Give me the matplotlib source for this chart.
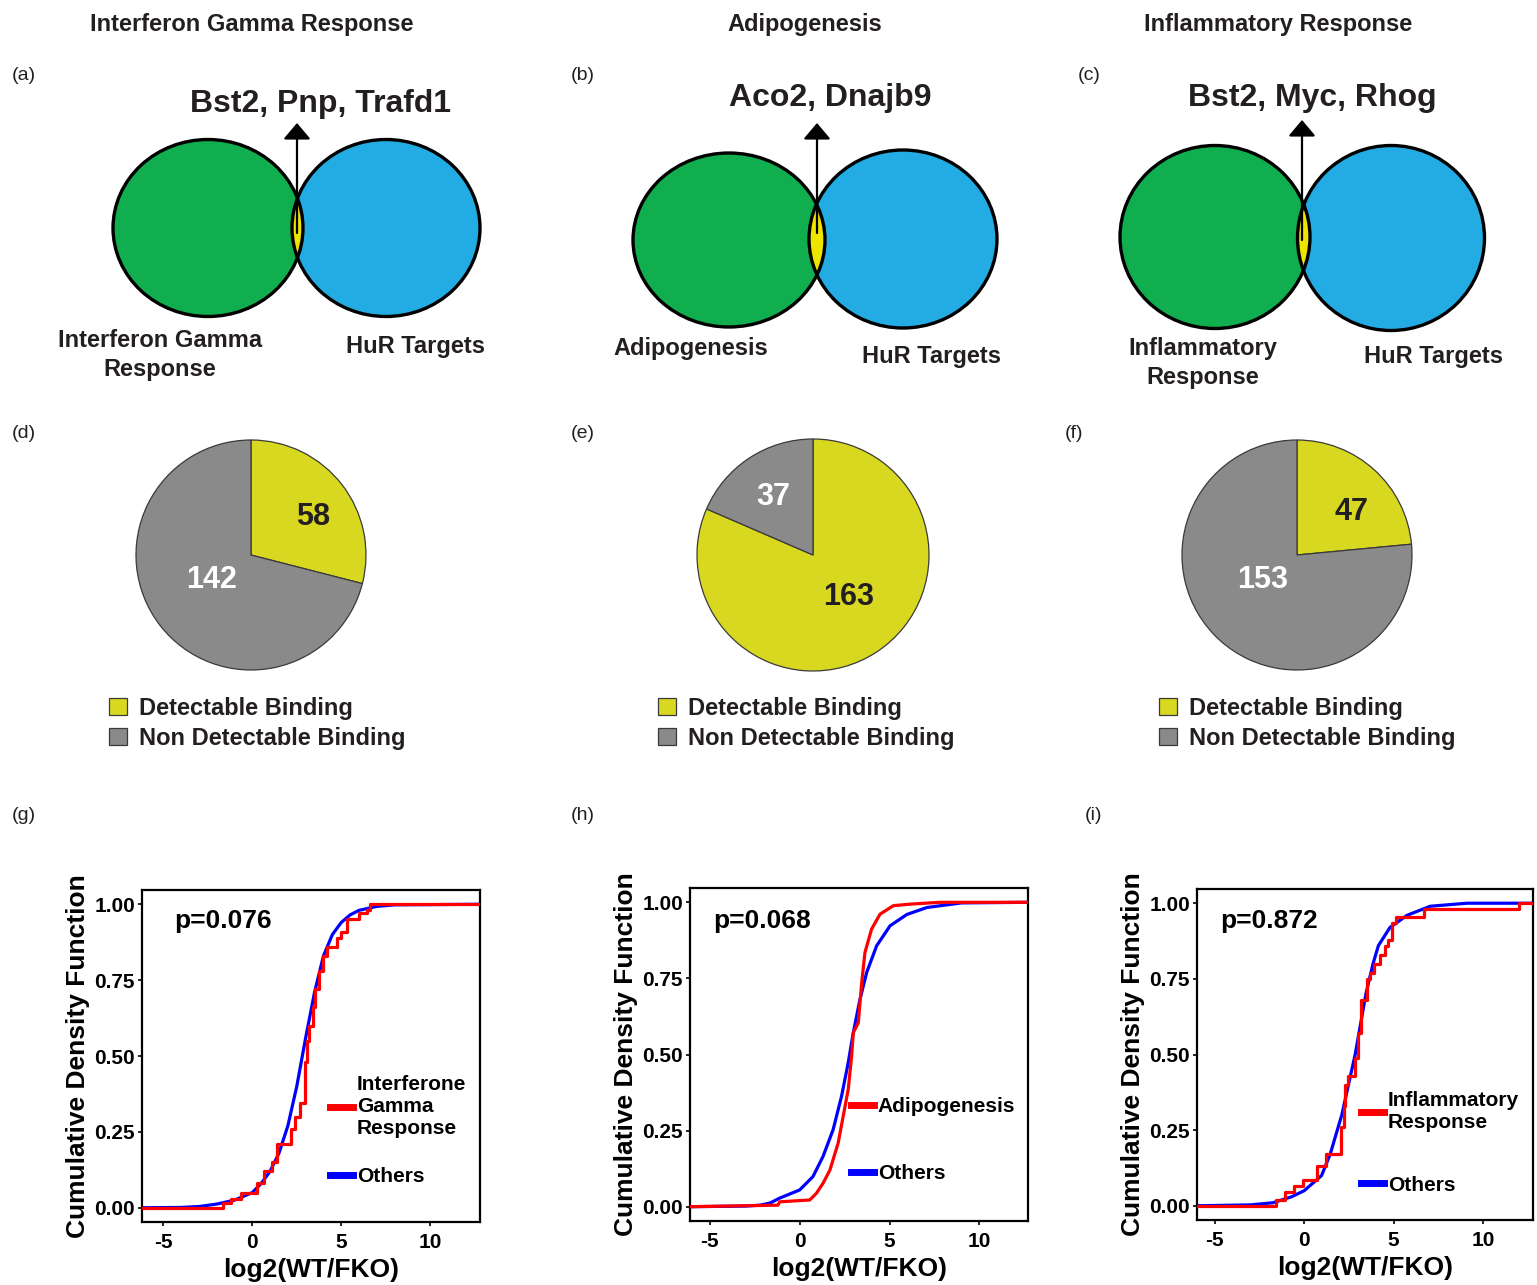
import numpy as np
import matplotlib.pyplot as plt
from matplotlib.patches import Ellipse

W, H = 1537, 1285
plt.rcParams['font.family'] = ['Liberation Sans', 'DejaVu Sans']
plt.rcParams['axes.unicode_minus'] = False
INK = '#231F20'

# --- data ---
set_names = ["Interferon Gamma Response", "Adipogenesis", "Inflammatory Response"]
venn_labels = ["Interferon Gamma\nResponse", "Adipogenesis", "Inflammatory\nResponse"]
shared_genes = ["Bst2, Pnp, Trafd1", "Aco2, Dnajb9", "Bst2, Myc, Rhog"]

detectable = [58, 163, 47]
non_detectable = [142, 37, 153]
binding_labels = ["Detectable Binding", "Non Detectable Binding"]

p_values = ["p=0.076", "p=0.068", "p=0.872"]
cdf_labels = ["Interferone\nGamma\nResponse", "Adipogenesis", "Inflammatory\nResponse"]

# "Others" CDF
others_g_x = [-6.2, -4.0, -3.0, -2.0, -1.0, 0.0, 0.5, 1.0, 1.5, 2.0, 2.5, 3.0, 3.5, 4.0, 4.5, 5.0, 5.5, 6.0, 7.0, 8.0, 12.8]
others_g_y = [0.0, 0.001, 0.004, 0.012, 0.025, 0.05, 0.08, 0.12, 0.18, 0.27, 0.40, 0.56, 0.71, 0.83, 0.90, 0.94, 0.965, 0.98, 0.993, 0.998, 1.0]
others_h_x = [-6.1, -3.0, -2.2, -1.65, -1.12, 0.0, 0.74, 1.3, 1.86, 2.33, 2.7, 2.98, 3.35, 3.73, 4.28, 5.03, 5.96, 7.08, 9.0, 12.7]
others_h_y = [0.0, 0.002, 0.005, 0.012, 0.028, 0.055, 0.099, 0.165, 0.253, 0.363, 0.473, 0.571, 0.68, 0.77, 0.857, 0.923, 0.96, 0.983, 0.998, 1.0]
others_i_x = [-6.0, -3.0, -1.75, -0.7, 0.0, 0.97, 1.45, 2.1, 2.85, 3.45, 3.85, 4.15, 4.8, 5.75, 7.05, 9.1, 12.8]
others_i_y = [0.0, 0.003, 0.01, 0.03, 0.05, 0.10, 0.17, 0.30, 0.50, 0.70, 0.80, 0.86, 0.92, 0.96, 0.99, 1.0, 1.0]

# gene set CDF (red): jump positions and level after each jump
set_g_x = [-1.65, -1.2, -0.65, 0.28, 0.65, 1.1, 1.4, 2.15, 2.4, 2.7, 2.95, 3.05, 3.2, 3.4, 3.55, 3.75, 4.0, 4.2, 4.75, 5.0, 5.35, 6.0, 6.45, 6.6]
set_g_y = [0.015, 0.03, 0.05, 0.08, 0.12, 0.15, 0.21, 0.26, 0.30, 0.345, 0.48, 0.55, 0.60, 0.66, 0.72, 0.78, 0.83, 0.86, 0.89, 0.91, 0.95, 0.97, 0.98, 1.0]
# adipogenesis set is large, its steps are tiny: read as a traced line
set_h_x = [-1.2, -1.12, 0.56, 0.93, 1.3, 1.68, 2.14, 2.42, 2.7, 2.89, 2.98, 3.26, 3.45, 3.63, 4.0, 4.47, 5.21, 6.15, 7.8]
set_h_y = [0.005, 0.016, 0.022, 0.044, 0.077, 0.12, 0.209, 0.297, 0.385, 0.494, 0.571, 0.604, 0.736, 0.835, 0.912, 0.961, 0.989, 0.994, 1.0]
set_i_x = [-1.6, -1.08, -0.56, -0.05, 0.7, 1.2, 2.05, 2.2, 2.3, 2.45, 2.85, 3.0, 3.2, 3.5, 3.7, 3.9, 4.25, 4.5, 4.7, 4.9, 5.15, 6.7, 7.05, 12.0]
set_i_y = [0.02, 0.045, 0.065, 0.085, 0.13, 0.17, 0.26, 0.33, 0.40, 0.43, 0.49, 0.57, 0.68, 0.75, 0.77, 0.80, 0.83, 0.86, 0.88, 0.935, 0.955, 0.98, 0.98, 1.0]

others_x = [others_g_x, others_h_x, others_i_x]
others_y = [others_g_y, others_h_y, others_i_y]
set_x = [set_g_x, set_h_x, set_i_x]
set_y = [set_g_y, set_h_y, set_i_y]


def px_axes(fig, left, top, right, bottom):
    return fig.add_axes([left / W, 1 - bottom / H, (right - left) / W, (bottom - top) / H])


fig = plt.figure(figsize=(W / 100, H / 100), dpi=100)

# overlay in pixel coordinates for venn diagrams and free text
ov = fig.add_axes([0, 0, 1, 1])
ov.set_xlim(0, W)
ov.set_ylim(H, 0)
ov.axis('off')

title_x = [252, 805, 1278]
for name, x in zip(set_names, title_x):
    ov.text(x, 24, name, ha='center', va='center', fontsize=17, fontweight='bold', color=INK)

letters = [("(a)", 12, 76), ("(b)", 571, 76), ("(c)", 1078, 76),
           ("(d)", 12, 433), ("(e)", 571, 433), ("(f)", 1065, 433),
           ("(g)", 12, 815), ("(h)", 571, 815), ("(i)", 1085, 815)]
for s, x, y in letters:
    ov.text(x, y, s, ha='left', va='center', fontsize=14, color=INK)

# venn diagrams: (cx, cy, rx, ry) for set circle and HuR circle
venn_green = [(208, 228, 95, 88.5), (729, 240, 96, 87), (1215, 237, 95, 91.5)]
venn_blue = [(386, 228, 94, 88.5), (903, 239, 94, 89), (1391, 238, 93.5, 92.5)]
arrow_x = [297, 817, 1302]
arrow_top = [123, 123, 120]
arrow_base = [233, 233, 240]
gene_pos = [(320, 104), (830, 98), (1312, 98)]
set_label_pos = [(160, 355), (691, 349), (1203, 363)]
hur_label_pos = [(415, 346), (932, 357), (1434, 357)]

for k in range(3):
    gx, gy, grx, gry = venn_green[k]
    bx, by, brx, bry = venn_blue[k]
    green = Ellipse((gx, gy), 2 * grx, 2 * gry, fc='#10AE4F', ec='none', zorder=2)
    blue = Ellipse((bx, by), 2 * brx, 2 * bry, fc='#22ACE3', ec='none', zorder=2)
    ov.add_patch(green)
    ov.add_patch(blue)
    lens = Ellipse((bx, by), 2 * brx, 2 * bry, fc='#EDE400', ec='none', zorder=3)
    ov.add_patch(lens)
    lens.set_clip_path(green)
    ov.add_patch(Ellipse((gx, gy), 2 * grx, 2 * gry, fc='none', ec='black', lw=2.4, zorder=4))
    ov.add_patch(Ellipse((bx, by), 2 * brx, 2 * bry, fc='none', ec='black', lw=2.4, zorder=4))
    ov.annotate('', xy=(arrow_x[k], arrow_top[k]), xytext=(arrow_x[k], arrow_base[k]),
                arrowprops=dict(arrowstyle='-|>,head_length=0.45,head_width=0.38',
                                color='black', lw=1.6, mutation_scale=22,
                                shrinkA=0, shrinkB=0), zorder=5)
    ov.text(*gene_pos[k], shared_genes[k], ha='center', va='center', fontsize=23,
            fontweight='bold', color=INK)
    ov.text(*set_label_pos[k], venn_labels[k], ha='center', va='center', fontsize=17,
            fontweight='bold', color=INK, linespacing=1.3)
    ov.text(*hur_label_pos[k], "HuR Targets", ha='center', va='center', fontsize=17,
            fontweight='bold', color=INK)

# pies
pie_boxes = [(135, 440, 367, 670), (696, 439, 930, 671), (1181, 440, 1413, 670)]
pie_text_pos = [((0.54, 0.33), (-0.34, -0.22)),
                ((0.31, -0.36), (-0.34, 0.50)),
                ((0.47, 0.37), (-0.30, -0.22))]
legend_left = [109, 658, 1159]
yellow, gray = '#D9D821', '#8A8A8A'

for k in range(3):
    ax = px_axes(fig, *pie_boxes[k])
    wedges, _ = ax.pie([detectable[k], non_detectable[k]], colors=[yellow, gray],
                       startangle=90, counterclock=False, radius=1,
                       wedgeprops=dict(edgecolor='#3A3A3A', linewidth=0.9))
    ax.set_xlim(-1.0, 1.0)
    ax.set_ylim(-1.0, 1.0)
    (dx, dy), (nx, ny) = pie_text_pos[k]
    ax.text(dx, dy, str(detectable[k]), ha='center', va='center', fontsize=22,
            fontweight='bold', color=INK)
    ax.text(nx, ny, str(non_detectable[k]), ha='center', va='center', fontsize=22,
            fontweight='bold', color='white')
    leg = ax.legend(wedges, binding_labels, loc='upper left',
                    bbox_to_anchor=(legend_left[k] / W, 1 - 697 / H),
                    bbox_transform=fig.transFigure, frameon=False, borderpad=0,
                    handlelength=0.75, handleheight=0.75, handletextpad=0.5,
                    labelspacing=0.3, borderaxespad=0,
                    prop=dict(size=17, weight='bold'))
    for t in leg.get_texts():
        t.set_color(INK)

# CDF plots
cdf_boxes = [(142, 890, 480, 1222), (690, 888, 1028, 1221), (1197, 889, 1533, 1220)]
xlims = [(-6.2, 12.8), (-6.1, 12.7), (-6.0, 12.8)]
p_pos = [(0.24, 0.907), (0.213, 0.90), (0.214, 0.903)]
leg_anchor = [(0.556, 0.275), (0.476, 0.243), (0.488, 0.233)]
leg_spacing = [1.4, 2.3, 2.1]

for k in range(3):
    ax = px_axes(fig, *cdf_boxes[k])
    x0, x1 = xlims[k]
    sx = np.r_[x0, set_x[k], x1]
    sy = np.r_[0.0, set_y[k], set_y[k][-1]]
    ax.plot(others_x[k], others_y[k], color='#0000FF', lw=2.3, label='Others', zorder=2)
    if k == 1:
        ax.plot(sx, sy, color='#FF0000', lw=2.3, label=cdf_labels[k], zorder=3)
    else:
        ax.step(sx, sy, where='post', color='#FF0000', lw=2.3, label=cdf_labels[k], zorder=3)
    ax.set_xlim(x0, x1)
    ax.set_ylim(-0.047, 1.047)
    ax.set_xticks([-5, 0, 5, 10])
    ax.set_yticks([0, 0.25, 0.5, 0.75, 1.0])
    ax.set_yticklabels(["0.00", "0.25", "0.50", "0.75", "1.00"])
    for s in ax.spines.values():
        s.set_linewidth(1.6)
    ax.tick_params(length=3, width=1.2, labelsize=15, pad=2)
    ax.tick_params(axis='x', pad=5)
    for lab in ax.get_xticklabels() + ax.get_yticklabels():
        lab.set_fontweight('bold')
    ax.set_xlabel("log2(WT/FKO)", fontsize=19, fontweight='bold', labelpad=4)
    ax.set_ylabel("Cumulative Density Function", fontsize=19, fontweight='bold', labelpad=3)
    ax.text(*p_pos[k], p_values[k], transform=ax.transAxes, ha='center', va='center',
            fontsize=19, fontweight='bold', color='black')
    handles, labels = ax.get_legend_handles_labels()
    ax.legend(handles[::-1], labels[::-1], loc='center left', bbox_to_anchor=leg_anchor[k],
              frameon=False, borderpad=0, borderaxespad=0, handlelength=1.1,
              handletextpad=0.2, labelspacing=leg_spacing[k],
              prop=dict(size=15, weight='bold'))
    for line in ax.get_legend().get_lines():
        line.set_linewidth(5)

fig.savefig('out.png', dpi=100, facecolor='white')
